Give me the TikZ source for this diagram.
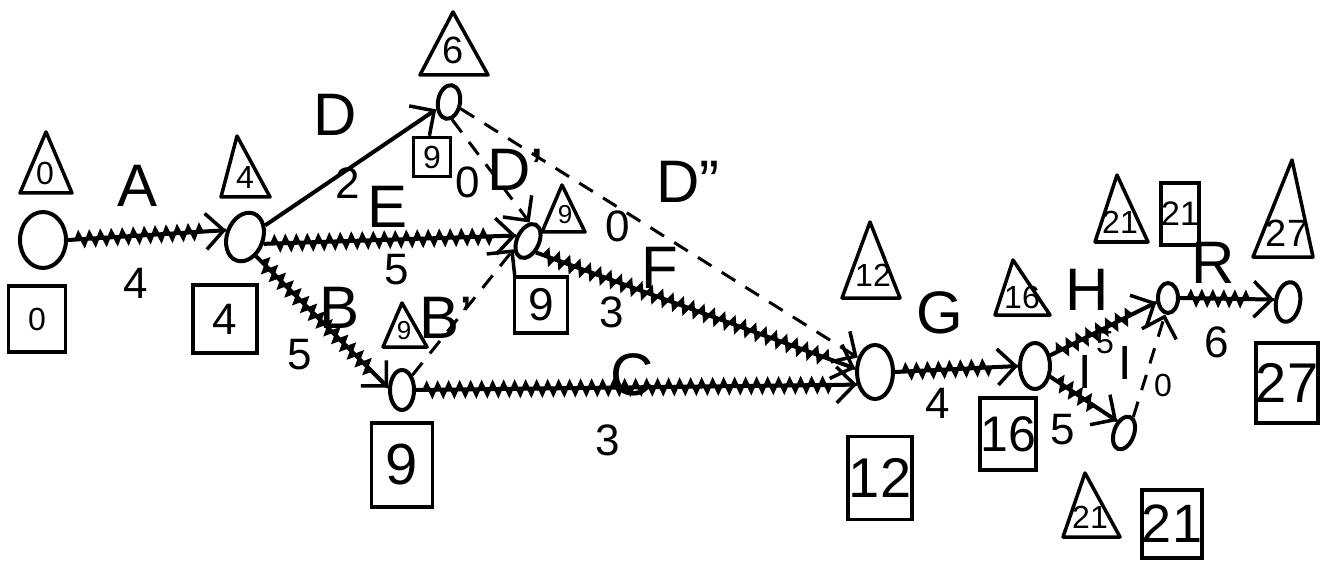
\documentclass[tikz,border=0pt]{standalone}
\usepackage{fontspec}
\setmainfont{Liberation Sans}
\usetikzlibrary{arrows.meta,decorations.pathmorphing,shapes.geometric}
\newcommand\fsz[1]{\fontsize{#1}{#1}\selectfont}
\begin{document}
\begin{tikzpicture}[x=1pt,y=-1pt,
  evt/.style={draw, ellipse, line width=4pt, inner sep=0pt},
  tip/.style={-{Straight Barb[length=18pt,width=36pt,line width=3.5pt]}},
  crit/.style={line width=4pt, tip, postaction={draw, -, line width=3pt, decorate,
     decoration={zigzag, amplitude=6pt, segment length=11pt, pre length=8pt, post length=24pt}}},
  act/.style={line width=4pt, tip},
  dum/.style={line width=3pt, dash pattern=on 16pt off 12pt, tip},
  lbl/.style={font=\fsz{60}, inner sep=0pt},
  dur/.style={font=\fsz{44}, inner sep=0pt},
  tnum/.style={font=\fsz{32}, inner sep=0pt},
  tri/.style={line width=3.5pt, line join=round},
  bx/.style={draw, line width=3.5pt, inner sep=0pt},
]
\useasboundingbox (0,0) rectangle (1321,561);

% events
\node[evt, minimum width=46pt, minimum height=56pt] (n1) at (43,240) {};
\node[evt, minimum width=36pt, minimum height=50pt, rotate=-20] (n2) at (245,237) {};
\node[evt, minimum width=22pt, minimum height=34pt, rotate=-10] (n3) at (449,102) {};
\node[evt, minimum width=22pt, minimum height=36pt, rotate=-25] (n4) at (528,241) {};
\node[evt, minimum width=24pt, minimum height=40pt] (n5) at (402,390) {};
\node[evt, minimum width=36pt, minimum height=54pt] (n6) at (875,372) {};
\node[evt, minimum width=30pt, minimum height=46pt] (n7) at (1035,366) {};
\node[evt, minimum width=20pt, minimum height=34pt, rotate=-20] (n8) at (1124,433) {};
\node[evt, minimum width=20pt, minimum height=30pt] (n9) at (1168,298) {};
\node[evt, minimum width=24pt, minimum height=40pt, rotate=-10] (n10) at (1288,302) {};

% activities
\draw[crit] (n1.east) -- (n2.west);
\draw[act] (n2.50) -- (n3.220);
\draw[crit] (n2.east) -- (n4.west);
\draw[crit] (n2.-40) -- (n5.170);
\draw[crit] (n5.east) -- (n6.215);
\draw[crit] (n4.-30) -- (n6.170);
\draw[dum] (n3.-70) -- (n4.110);
\draw[dum] (n3.-20) -- (n6.140);
\draw[dum] (n5.55) -- (n4.235);
\draw[crit] (n6.east) -- (n7.west);
\draw[crit] (n7.35) -- (n9.200);
\draw[crit] (n7.-35) -- (n8.140);
\draw[dum] (n8.80) -- (n9.-100);
\draw[crit] (n9.east) -- (n10.west);

% activity labels
\node[lbl] (lA) at (138,186) {A};   \node[dur] (dA) at (136,283) {4};
\node[lbl] (lD) at (335,115) {D};   \node[dur] (dD) at (348,183) {2};
\node[lbl] (lE) at (388,207) {E};   \node[dur] (dE) at (397,270) {5};
\node[lbl] (lB) at (340,308) {B};   \node[dur] (dB) at (300,355) {5};
\node[lbl] (lDp) at (516,170) {D'}; \node[dur] (dDp) at (468,182) {0};
\node[lbl] (lBp) at (446,318) {B'};
\node[lbl] (lC) at (632,375) {C};   \node[dur] (dC) at (608,440) {3};
\node[lbl] (lF) at (660,268) {F};   \node[dur] (dF) at (612,312) {3};
\node[lbl] (lDpp) at (688,182) {D''}; \node[dur] (dDpp) at (618,226) {0};
\node[lbl] (lG) at (940,313) {G};   \node[dur] (dG) at (938,403) {4};
\node[lbl] (lH) at (1087,290) {H};  \node[tnum] (dH) at (1105,343) {5};
\node[lbl, font=\fsz{48}] (lI) at (1085,372) {I}; \node[dur] (dI) at (1063,430) {5};
\node[lbl, font=\fsz{48}] (lIp) at (1125,363) {I}; \node[tnum] (dIp) at (1163,385) {0};
\node[lbl] (lR) at (1213,263) {R};  \node[dur] (dR) at (1217,342) {6};

% triangles
\draw[tri] (20,193) -- (46,132) -- (72,193) -- cycle;      \node[tnum] (t0) at (45,173) {0};
\draw[tri] (221,197) -- (237,136) -- (270,197) -- cycle;   \node[tnum] (t4) at (245,177) {4};
\draw[tri] (420,75) -- (453,12) -- (488,75) -- cycle;      \node[tnum, font=\fsz{38}] (t6) at (453,50) {6};
\draw[tri] (542,232) -- (562,185) -- (585,232) -- cycle;   \node[tnum, font=\fsz{26}] (t9a) at (565,215) {9};
\draw[tri] (383,347) -- (402,303) -- (427,347) -- cycle;   \node[tnum, font=\fsz{26}] (t9b) at (404,331) {9};
\draw[tri] (842,298) -- (870,222) -- (900,298) -- cycle;   \node[tnum] (t12) at (873,275) {12};
\draw[tri] (995,315) -- (1013,260) -- (1050,315) -- cycle; \node[tnum] (t16) at (1022,297) {16};
\draw[tri] (1095,242) -- (1117,175) -- (1148,242) -- cycle;\node[tnum] (t21a) at (1120,222) {21};
\draw[tri] (1253,257) -- (1292,160) -- (1313,257) -- cycle;\node[tnum, font=\fsz{38}] (t27) at (1287,233) {27};
\draw[tri] (1063,537) -- (1085,473) -- (1120,537) -- cycle;\node[tnum] (t21b) at (1090,517) {21};

% boxes
\node[bx, minimum width=57pt, minimum height=66pt, font=\fsz{32}] (b0) at (37,319) {0};
\node[bx, minimum width=64pt, minimum height=68pt, font=\fsz{44}] (b4) at (225,319) {4};
\node[bx, minimum width=37pt, minimum height=39pt, font=\fsz{32}] (b9s) at (432,157) {9};
\node[bx, minimum width=53pt, minimum height=56pt, font=\fsz{46}] (b9a) at (541,305) {9};
\node[bx, minimum width=61pt, minimum height=84pt, font=\fsz{58}] (b9b) at (402,465) {9};
\node[bx, minimum width=64pt, minimum height=83pt, font=\fsz{56}] (b12) at (880,478) {12};
\node[bx, minimum width=51pt, minimum height=72pt, font=\fsz{50}] (b16) at (1008,434) {16};
\node[bx, minimum width=36pt, minimum height=62pt, font=\fsz{34}] (b21a) at (1180,214) {21};
\node[bx, minimum width=56pt, minimum height=80pt, font=\fsz{56}] (b27) at (1287,383) {27};
\node[bx, minimum width=53pt, minimum height=68pt, font=\fsz{54}] (b21b) at (1172,524) {21};
\end{tikzpicture}
\end{document}
